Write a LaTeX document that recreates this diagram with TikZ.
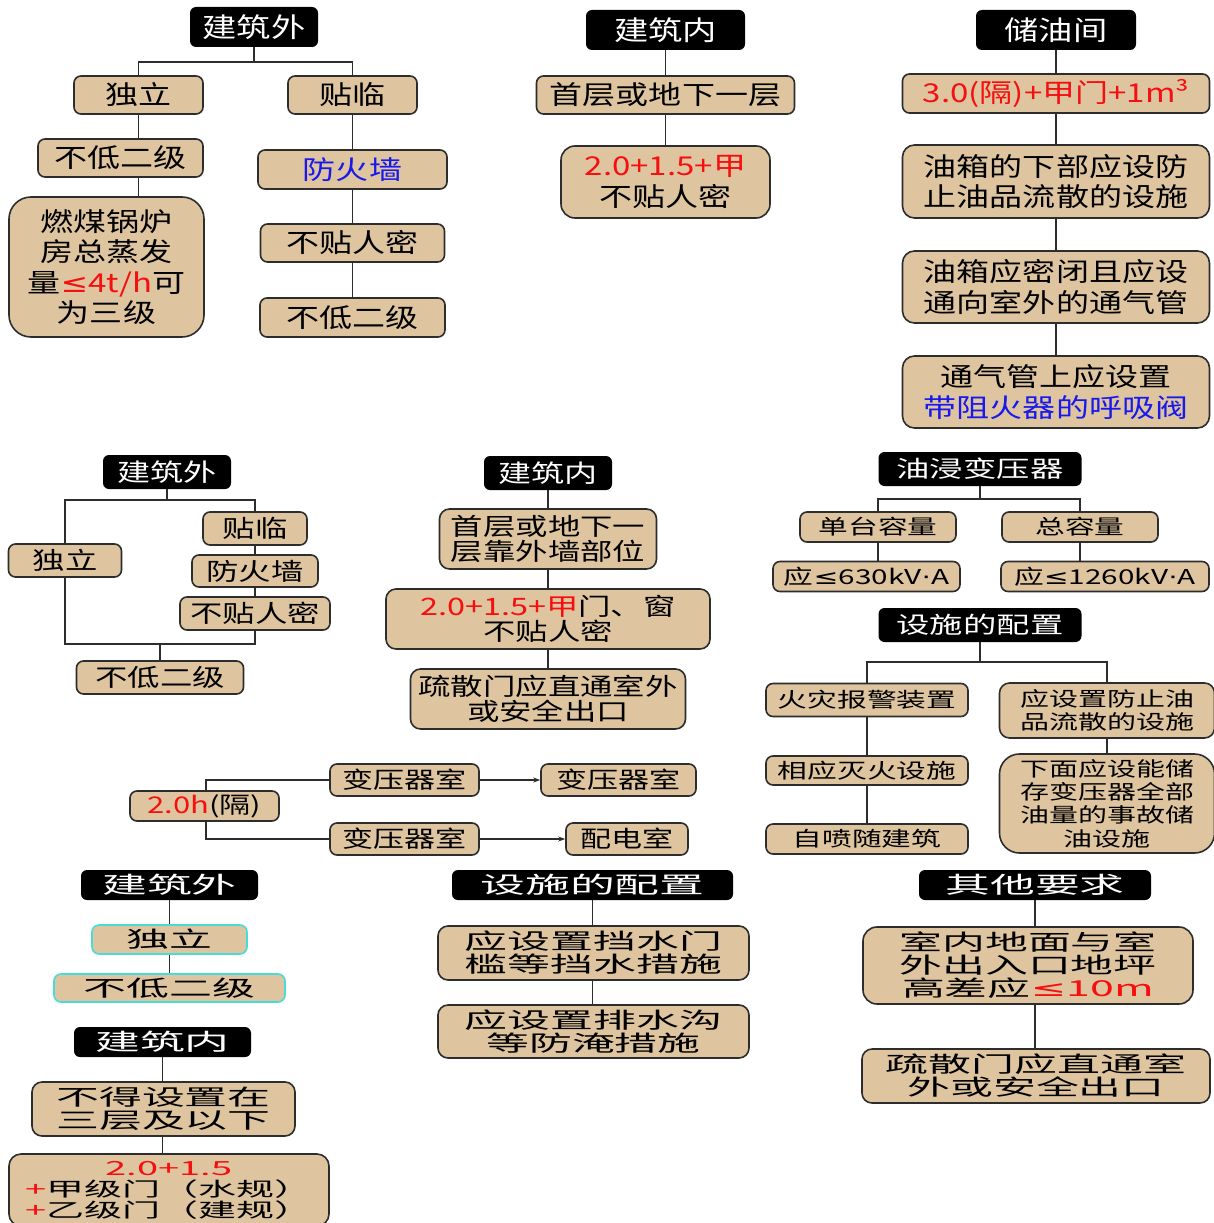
\documentclass[tikz,border=0pt]{standalone}
\usepackage{fontspec}
\usetikzlibrary{arrows.meta}
\newfontfamily\fA[FakeStretch=1.27]{Noto Sans CJK SC}
\newfontfamily\fB[FakeStretch=1.35]{Noto Sans CJK SC}
\newfontfamily\fC[FakeStretch=1.45]{Noto Sans CJK SC}
\newfontfamily\fD[FakeStretch=1.95]{Noto Sans CJK SC}
\newfontfamily\sA[FakeStretch=1.27]{DejaVu Sans}
\newfontfamily\sC[FakeStretch=1.45]{DejaVu Sans}
\newfontfamily\sD[FakeStretch=1.95]{DejaVu Sans}
\definecolor{boxtan}{RGB}{222,197,160}
\definecolor{bd}{RGB}{45,45,45}
\definecolor{cy}{RGB}{70,220,215}
\definecolor{rd}{RGB}{245,15,15}
\definecolor{bl}{RGB}{25,25,235}
\tikzset{
  bx/.style={draw=bd, fill=boxtan, line width=1.6pt, rounded corners=7pt, inner sep=0pt, align=center, text=black},
  hd/.style={fill=black, rounded corners=6pt, inner sep=0pt, text=white, align=center},
  wh/.style 2 args={minimum width=#1pt, minimum height=#2pt},
  ln/.style={draw=bd, line width=1.6pt, line join=miter},
  ar/.style={draw=bd, line width=1.3pt, -{Stealth[length=7pt,width=5pt]}},
  tA/.style={font=\fA\fontsize{26}{30.5}\selectfont},
  tAh/.style={font=\fA\fontsize{27}{30}\selectfont},
  tB/.style={font=\fB\fontsize{24}{25}\selectfont},
  tBh/.style={font=\fB\fontsize{24.5}{25}\selectfont},
  tBs/.style={font=\fB\fontsize{23}{25}\selectfont},
  tC/.style={font=\fC\fontsize{20.5}{23.3}\selectfont},
  tCs/.style={font=\fC\fontsize{20}{23.3}\selectfont},
  tCh/.style={font=\fC\fontsize{23}{25}\selectfont},
  tD/.style={font=\fD\fontsize{22}{23}\selectfont},
  tDh/.style={font=\fD\fontsize{23}{25}\selectfont},
  tE/.style={font=\fD\fontsize{19.5}{21}\selectfont}
}
\begin{document}
\begin{tikzpicture}[x=1pt,y=-1pt]
\fill[white] (0,0) rectangle (1214,1223);
\useasboundingbox (0,0) rectangle (1214,1223);

% ---------- Section 1: 建筑外 (top-left)
\node[hd,wh={128}{40},tAh] (h1) at (254,27) {建筑外};
\node[bx,wh={129}{38},tA] (a1) at (138.5,95) {独立};
\node[bx,wh={129}{38},tA] (b1) at (352.5,95) {贴临};
\node[bx,wh={165}{38},tA] (a2) at (120.5,158) {不低二级};
\node[bx,wh={195}{140},tA,rounded corners=22pt] (a3) at (106.5,267) {燃煤锅炉\\房总蒸发\\量\textcolor{rd}{{\sA ≤}4t/h}可\\为三级};
\node[bx,wh={189}{39},tA,text=bl] (b2) at (352.5,169.5) {防火墙};
\node[bx,wh={184}{38},tA] (b3) at (352.5,243) {不贴人密};
\node[bx,wh={185}{39},tA] (b4) at (352.5,317.5) {不低二级};
\coordinate (j1) at (254,62);
\draw[ln] (h1) -- (j1);
\draw[ln] (a1) |- (j1) -| (b1);
\draw[ln] (a1.south) -- (a1.south |- a2.north);
\draw[ln] (a1.south |- a2.south) -- (a1.south |- a3.north);
\draw[ln] (b1) -- (b2);
\draw[ln] (b2) -- (b3);
\draw[ln] (b3) -- (b4);

% ---------- Section 2: 建筑内 (top-middle)
\node[hd,wh={159}{40},tAh] (h2) at (665.5,30) {建筑内};
\node[bx,wh={258}{38},tA] (c1) at (665.5,95) {首层或地下一层};
\node[bx,wh={209}{72},tA,rounded corners=14pt] (c2) at (665.5,182) {\textcolor{rd}{2.0+1.5+甲}\\不贴人密};
\draw[ln] (h2) -- (c1);
\draw[ln] (c1) -- (c2);

% ---------- Section 3: 储油间 (top-right)
\node[hd,wh={160}{40},tAh] (h3) at (1056,30) {储油间};
\node[bx,wh={307}{39},tA,text=rd] (d1) at (1056,93.5) {3.0(隔)+甲门+1m³};
\node[bx,wh={307}{73},tA,rounded corners=12pt] (d2) at (1056,181.5) {油箱的下部应设防\\止油品流散的设施};
\node[bx,wh={307}{72},tA,rounded corners=12pt] (d3) at (1056,287) {油箱应密闭且应设\\通向室外的通气管};
\node[bx,wh={307}{72},tA,rounded corners=12pt] (d4) at (1056,392) {通气管上应设置\\\textcolor{bl}{带阻火器的呼吸阀}};
\draw[ln] (h3) -- (d1);
\draw[ln] (d1) -- (d2);
\draw[ln] (d2) -- (d3);
\draw[ln] (d3) -- (d4);

% ---------- Section 4: 建筑外 (middle-left)
\node[hd,wh={128}{34},tBh] (h4) at (167,472) {建筑外};
\node[bx,wh={113}{33},tB] (e1) at (65,560.5) {独立};
\node[bx,wh={104}{33},tB] (e2) at (255,528.5) {贴临};
\node[bx,wh={126}{32},tB] (e3) at (255,571) {防火墙};
\node[bx,wh={150}{33},tB] (e4) at (255,613.5) {不贴人密};
\node[bx,wh={167}{33},tB] (e5) at (160,677.5) {不低二级};
\coordinate (k1) at (167,500);
\coordinate (k6) at (160,644);
\draw[ln] (h4) -- (k1);
\draw[ln] (e1) |- (k1) -| (e2);
\draw[ln] (e2) -- (e3);
\draw[ln] (e3) -- (e4);
\draw[ln] (e1) |- (k6) -| (e4);
\draw[ln] (k6) -- (e5);

% ---------- Section 5: 建筑内 (middle-center)
\node[hd,wh={128}{34},tBh] (h5) at (548,473) {建筑内};
\node[bx,wh={217}{60},tB,rounded corners=10pt] (f1) at (548,539) {首层或地下一\\层靠外墙部位};
\node[bx,wh={324}{60},tB,rounded corners=10pt] (f2) at (548,619) {\textcolor{rd}{2.0+1.5+甲}门、窗\\不贴人密};
\node[bx,wh={275}{60},tB,rounded corners=10pt] (f3) at (548,699) {疏散门应直通室外\\或安全出口};
\draw[ln] (h5) -- (f1);
\draw[ln] (f1) -- (f2);
\draw[ln] (f2) -- (f3);

% ---------- Section 6: 油浸变压器 / 设施的配置 (middle-right)
\node[hd,wh={203}{34},tCh] (h6) at (980,469) {油浸变压器};
\node[bx,wh={156}{30},tC] (g1) at (878,527) {单台容量};
\node[bx,wh={156}{30},tC] (g2) at (1080,527) {总容量};
\node[bx,wh={187}{30},tC] (g3) at (866.5,576.5) {应{\sC ≤}630kV{\sC ·}A};
\node[bx,wh={208}{30},tC] (g4) at (1105,576.5) {应{\sC ≤}1260kV{\sC ·}A};
\coordinate (k7) at (980,499);
\draw[ln] (h6) -- (k7);
\draw[ln] (g1) |- (k7) -| (g2);
\draw[ln] (g1.south) -- (g1.south |- g3.north);
\draw[ln] (g2.south) -- (g2.south |- g4.north);

\node[hd,wh={203}{34},tCh] (h7) at (980,625) {设施的配置};
\node[bx,wh={202}{33},tC] (i1) at (867,700) {火灾报警装置};
\node[bx,wh={202}{29},tC] (i2) at (867,770.5) {相应灭火设施};
\node[bx,wh={202}{30},tC] (i3) at (867,839) {自喷随建筑};
\node[bx,wh={215}{55},tCs,rounded corners=10pt] (i4) at (1107,710.5) {应设置防止油\\品流散的设施};
\node[bx,wh={215}{99},tCs,rounded corners=20pt] (i5) at (1107,803.5) {下面应设能储\\存变压器全部\\油量的事故储\\油设施};
\coordinate (k8) at (980,662);
\draw[ln] (h7) -- (k8);
\draw[ln] (i1) |- (k8) -| (i4);
\draw[ln] (i1) -- (i2);
\draw[ln] (i2) -- (i3);
\draw[ln] (i4) -- (i5);

% ---------- Section 7: 2.0h(隔)
\node[bx,wh={149}{30},tBs] (t0) at (204.5,806) {\textcolor{rd}{2.0h}(隔)};
\node[bx,wh={149}{32},tBs] (t1) at (404.5,780) {变压器室};
\node[bx,wh={155}{32},tBs] (t2) at (618.5,780) {变压器室};
\node[bx,wh={149}{32},tBs] (t3) at (404.5,839) {变压器室};
\node[bx,wh={122}{32},tBs] (t4) at (627,839) {配电室};
\coordinate (m1) at (206,780);
\coordinate (m2) at (206,839);
\draw[ln] (t0.north -| m1) -- (m1) -- (t1);
\draw[ln] (t0.south -| m2) -- (m2) -- (t3);
\draw[ar] (t1) -- (t2);
\draw[ar] (t3) -- (t4);

% ---------- Section 8: bottom-left
\node[hd,wh={177}{30},tDh] (h8) at (169.5,885) {建筑外};
\node[bx,wh={155}{29},tD,draw=cy] (n1) at (169.5,939.5) {独立};
\node[bx,wh={231}{28},tD,draw=cy] (n2) at (169.5,988) {不低二级};
\node[hd,wh={177}{30},tDh] (h9) at (162.5,1042) {建筑内};
\node[bx,wh={263}{54},tD,rounded corners=10pt] (n3) at (163.5,1109) {不得设置在\\三层及以下};
\node[bx,wh={320}{72},tE,rounded corners=12pt] (n4) at (169,1190) {\textcolor{rd}{2.0+1.5}\\\textcolor{rd}{+}甲级门（水规）\\\textcolor{rd}{+}乙级门（建规）};
\draw[ln] (h8) -- (n1);
\draw[ln] (n1) -- (n2);
\draw[ln] (h9.south) -- (h9.south |- n3.north);
\draw[ln] (h9.south |- n3.south) -- (h9.south |- n4.north);

% ---------- Section 9: 设施的配置 (bottom-middle)
\node[hd,wh={281}{30},tDh] (h10) at (592.5,885) {设施的配置};
\node[bx,wh={311}{54},tD,rounded corners=10pt] (p1) at (593.5,953) {应设置挡水门\\槛等挡水措施};
\node[bx,wh={311}{53},tD,rounded corners=10pt] (p2) at (593.5,1031.5) {应设置排水沟\\等防淹措施};
\draw[ln] (h10.south) -- (h10.south |- p1.north);
\draw[ln] (h10.south |- p1.south) -- (h10.south |- p2.north);

% ---------- Section 10: 其他要求 (bottom-right)
\node[hd,wh={232}{30},tDh] (h11) at (1035,885) {其他要求};
\node[bx,wh={330}{77},tD,rounded corners=14pt] (q1) at (1028,965.5) {室内地面与室\\外出入口地坪\\高差应\textcolor{rd}{{\sD ≤}10m}};
\node[bx,wh={348}{54},tD,rounded corners=10pt] (q2) at (1036,1076) {疏散门应直通室\\外或安全出口};
\draw[ln] (h11.south) -- (h11.south |- q1.north);
\draw[ln] (h11.south |- q1.south) -- (h11.south |- q2.north);
\end{tikzpicture}
\end{document}
